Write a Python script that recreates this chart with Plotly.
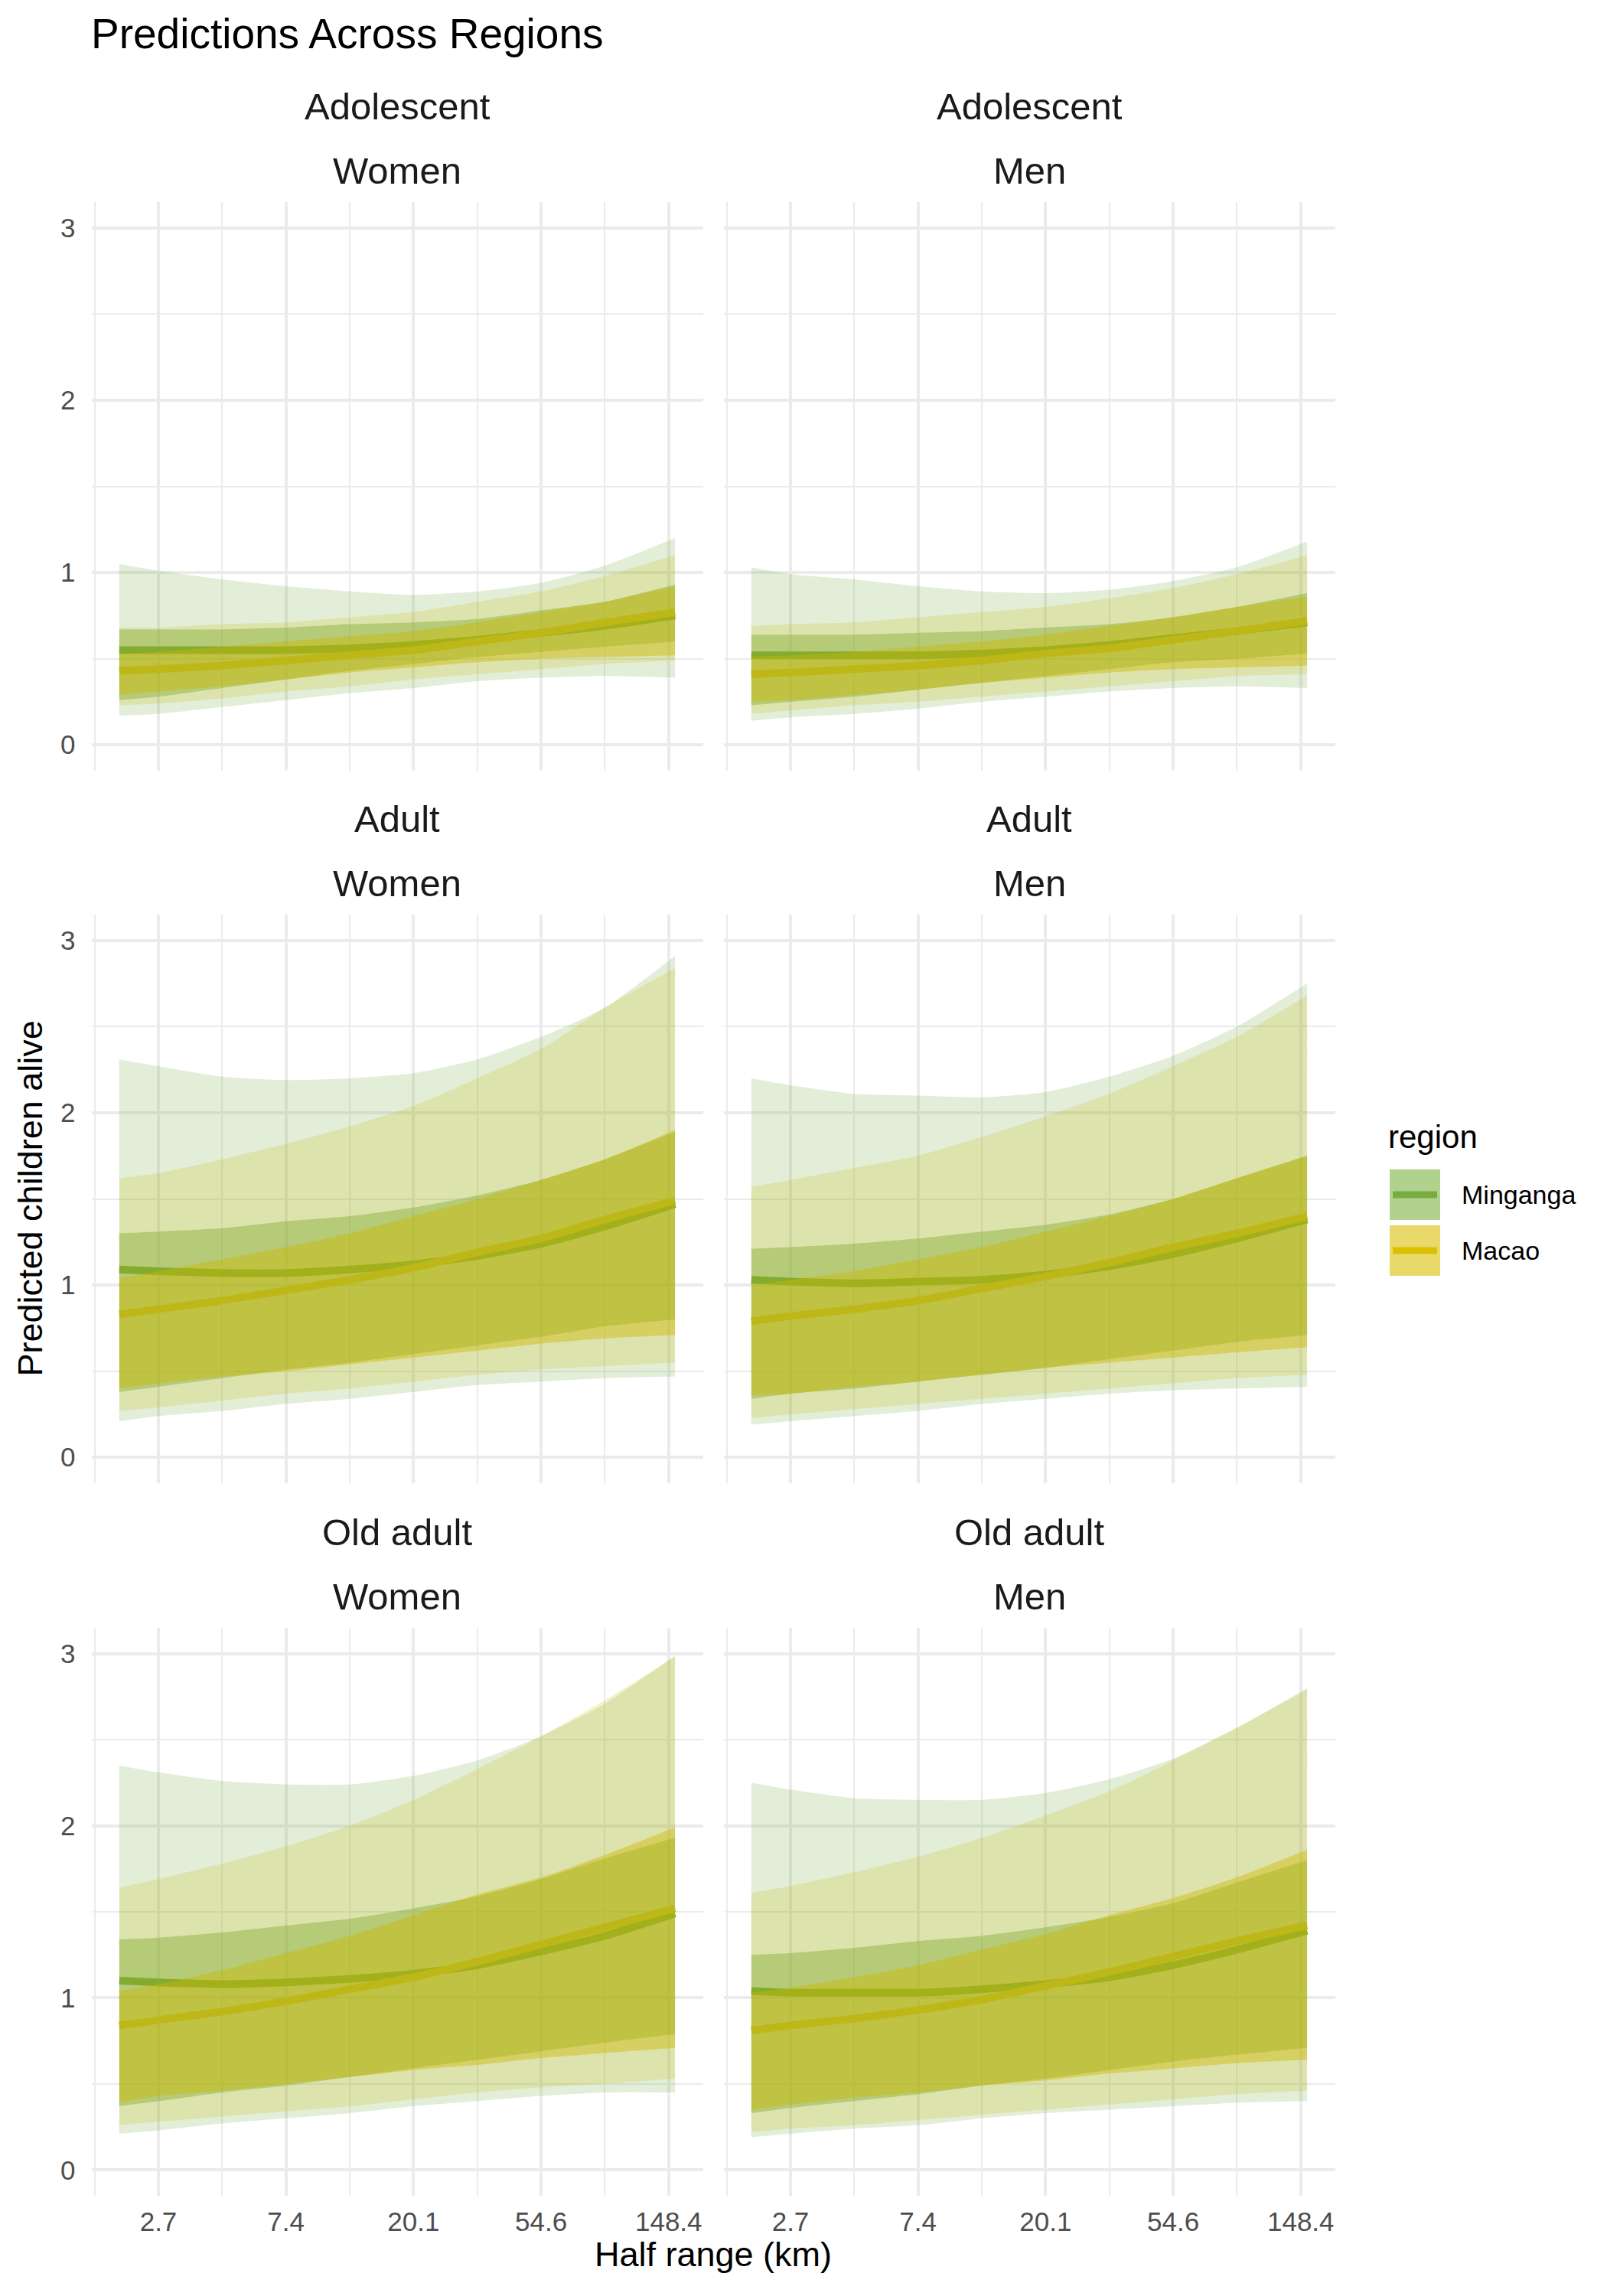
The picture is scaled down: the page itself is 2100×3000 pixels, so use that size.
"""Faceted prediction ribbons (children alive vs half range) with Plotly."""

import plotly.graph_objects as go

# the page body adds an 8 px margin, so the figure is 8 px smaller than the window
PAGE_PAD = 8
FIG_W, FIG_H = 2100 - PAGE_PAD, 3000 - PAGE_PAD

# x values shared by every curve (km, drawn on a log axis)
HALF_RANGE_KM = [2.0, 2.72, 4.48, 7.39, 12.18, 20.09, 33.12, 54.6, 90.02, 156.0]

AGE_GROUPS = ["Adolescent", "Adult", "Old adult"]
SEXES = ["Women", "Men"]
REGIONS = ["Minganga", "Macao"]

X_TICK_VALUES = [2.718, 7.389, 20.09, 54.6, 148.4]
X_TICK_LABELS = ["2.7", "7.4", "20.1", "54.6", "148.4"]
X_MINOR_VALUES = [1.649, 4.482, 12.18, 33.12, 90.02]
Y_TICK_VALUES = [0, 1, 2, 3]
Y_MINOR_VALUES = [0.5, 1.5, 2.5]

# Adolescent / Women
ADOL_W_MIN_MEAN = [0.55, 0.55, 0.55, 0.55, 0.56, 0.58, 0.61, 0.65, 0.69, 0.75]
ADOL_W_MIN_IN_LO = [0.26, 0.28, 0.33, 0.38, 0.43, 0.47, 0.51, 0.54, 0.57, 0.60]
ADOL_W_MIN_IN_HI = [0.67, 0.67, 0.67, 0.68, 0.70, 0.71, 0.73, 0.78, 0.83, 0.93]
ADOL_W_MIN_OUT_LO = [0.17, 0.18, 0.22, 0.26, 0.30, 0.33, 0.37, 0.39, 0.40, 0.39]
ADOL_W_MIN_OUT_HI = [1.05, 1.01, 0.96, 0.92, 0.89, 0.87, 0.89, 0.94, 1.04, 1.20]
ADOL_W_MAC_MEAN = [0.43, 0.44, 0.46, 0.49, 0.52, 0.55, 0.60, 0.65, 0.71, 0.77]
ADOL_W_MAC_IN_LO = [0.29, 0.31, 0.34, 0.38, 0.42, 0.45, 0.48, 0.50, 0.51, 0.52]
ADOL_W_MAC_IN_HI = [0.53, 0.54, 0.57, 0.60, 0.63, 0.66, 0.71, 0.77, 0.83, 0.92]
ADOL_W_MAC_OUT_LO = [0.23, 0.24, 0.27, 0.31, 0.34, 0.38, 0.41, 0.44, 0.47, 0.49]
ADOL_W_MAC_OUT_HI = [0.68, 0.68, 0.70, 0.71, 0.74, 0.77, 0.83, 0.89, 0.98, 1.10]

# Adolescent / Men
ADOL_M_MIN_MEAN = [0.52, 0.52, 0.52, 0.52, 0.53, 0.55, 0.58, 0.62, 0.66, 0.71]
ADOL_M_MIN_IN_LO = [0.23, 0.25, 0.28, 0.32, 0.36, 0.40, 0.44, 0.48, 0.50, 0.53]
ADOL_M_MIN_IN_HI = [0.64, 0.64, 0.64, 0.65, 0.66, 0.68, 0.70, 0.74, 0.80, 0.88]
ADOL_M_MIN_OUT_LO = [0.14, 0.16, 0.18, 0.21, 0.25, 0.28, 0.31, 0.33, 0.34, 0.33]
ADOL_M_MIN_OUT_HI = [1.03, 0.99, 0.96, 0.92, 0.89, 0.88, 0.90, 0.95, 1.03, 1.18]
ADOL_M_MAC_MEAN = [0.41, 0.42, 0.44, 0.46, 0.49, 0.53, 0.56, 0.61, 0.66, 0.72]
ADOL_M_MAC_IN_LO = [0.25, 0.26, 0.29, 0.32, 0.36, 0.39, 0.42, 0.44, 0.45, 0.46]
ADOL_M_MAC_IN_HI = [0.51, 0.52, 0.54, 0.57, 0.60, 0.64, 0.69, 0.74, 0.80, 0.86]
ADOL_M_MAC_OUT_LO = [0.18, 0.20, 0.23, 0.25, 0.28, 0.31, 0.34, 0.37, 0.40, 0.41]
ADOL_M_MAC_OUT_HI = [0.69, 0.70, 0.71, 0.74, 0.77, 0.80, 0.85, 0.91, 0.99, 1.10]

# Adult / Women
ADULT_W_MIN_MEAN = [1.09, 1.08, 1.07, 1.07, 1.09, 1.12, 1.17, 1.24, 1.34, 1.47]
ADULT_W_MIN_IN_LO = [0.38, 0.41, 0.46, 0.51, 0.55, 0.60, 0.65, 0.70, 0.76, 0.80]
ADULT_W_MIN_IN_HI = [1.30, 1.31, 1.33, 1.37, 1.40, 1.45, 1.52, 1.61, 1.73, 1.89]
ADULT_W_MIN_OUT_LO = [0.21, 0.24, 0.27, 0.31, 0.34, 0.38, 0.42, 0.44, 0.46, 0.47]
ADULT_W_MIN_OUT_HI = [2.31, 2.27, 2.21, 2.19, 2.20, 2.23, 2.31, 2.44, 2.61, 2.91]
ADULT_W_MAC_MEAN = [0.83, 0.86, 0.91, 0.97, 1.03, 1.10, 1.19, 1.27, 1.38, 1.49]
ADULT_W_MAC_IN_LO = [0.40, 0.43, 0.47, 0.50, 0.54, 0.58, 0.62, 0.66, 0.69, 0.71]
ADULT_W_MAC_IN_HI = [1.04, 1.08, 1.15, 1.22, 1.30, 1.40, 1.50, 1.61, 1.73, 1.90]
ADULT_W_MAC_OUT_LO = [0.27, 0.29, 0.33, 0.37, 0.40, 0.44, 0.48, 0.51, 0.53, 0.55]
ADULT_W_MAC_OUT_HI = [1.62, 1.65, 1.73, 1.82, 1.92, 2.04, 2.20, 2.37, 2.61, 2.84]

# Adult / Men
ADULT_M_MIN_MEAN = [1.03, 1.02, 1.01, 1.02, 1.03, 1.06, 1.11, 1.18, 1.27, 1.38]
ADULT_M_MIN_IN_LO = [0.34, 0.37, 0.40, 0.44, 0.48, 0.52, 0.57, 0.62, 0.67, 0.71]
ADULT_M_MIN_IN_HI = [1.21, 1.22, 1.24, 1.27, 1.31, 1.35, 1.41, 1.50, 1.62, 1.75]
ADULT_M_MIN_OUT_LO = [0.19, 0.21, 0.24, 0.27, 0.31, 0.34, 0.37, 0.39, 0.40, 0.41]
ADULT_M_MIN_OUT_HI = [2.20, 2.16, 2.11, 2.10, 2.09, 2.12, 2.21, 2.33, 2.50, 2.75]
ADULT_M_MAC_MEAN = [0.79, 0.82, 0.86, 0.91, 0.98, 1.05, 1.13, 1.22, 1.30, 1.40]
ADULT_M_MAC_IN_LO = [0.36, 0.37, 0.41, 0.44, 0.48, 0.52, 0.55, 0.58, 0.61, 0.64]
ADULT_M_MAC_IN_HI = [1.00, 1.03, 1.08, 1.15, 1.22, 1.31, 1.40, 1.50, 1.62, 1.75]
ADULT_M_MAC_OUT_LO = [0.23, 0.25, 0.28, 0.31, 0.34, 0.37, 0.40, 0.43, 0.46, 0.48]
ADULT_M_MAC_OUT_HI = [1.57, 1.61, 1.68, 1.75, 1.86, 1.98, 2.11, 2.27, 2.44, 2.68]

# Old adult / Women
OLD_W_MIN_MEAN = [1.10, 1.09, 1.08, 1.09, 1.11, 1.14, 1.19, 1.27, 1.36, 1.49]
OLD_W_MIN_IN_LO = [0.37, 0.40, 0.45, 0.49, 0.54, 0.59, 0.64, 0.69, 0.74, 0.79]
OLD_W_MIN_IN_HI = [1.34, 1.35, 1.38, 1.42, 1.46, 1.52, 1.59, 1.69, 1.81, 1.93]
OLD_W_MIN_OUT_LO = [0.21, 0.23, 0.27, 0.30, 0.33, 0.37, 0.40, 0.43, 0.45, 0.45]
OLD_W_MIN_OUT_HI = [2.35, 2.31, 2.26, 2.24, 2.24, 2.29, 2.38, 2.52, 2.71, 2.99]
OLD_W_MAC_MEAN = [0.84, 0.87, 0.92, 0.98, 1.05, 1.12, 1.21, 1.31, 1.41, 1.52]
OLD_W_MAC_IN_LO = [0.39, 0.43, 0.46, 0.50, 0.54, 0.58, 0.61, 0.65, 0.68, 0.71]
OLD_W_MAC_IN_HI = [1.04, 1.08, 1.16, 1.26, 1.36, 1.48, 1.60, 1.70, 1.83, 1.99]
OLD_W_MAC_OUT_LO = [0.26, 0.28, 0.31, 0.34, 0.37, 0.41, 0.45, 0.48, 0.50, 0.53]
OLD_W_MAC_OUT_HI = [1.64, 1.69, 1.78, 1.88, 2.00, 2.15, 2.33, 2.52, 2.73, 2.98]

# Old adult / Men
OLD_M_MIN_MEAN = [1.04, 1.03, 1.03, 1.03, 1.05, 1.08, 1.12, 1.19, 1.28, 1.39]
OLD_M_MIN_IN_LO = [0.33, 0.36, 0.40, 0.44, 0.49, 0.53, 0.58, 0.63, 0.67, 0.71]
OLD_M_MIN_IN_HI = [1.25, 1.26, 1.29, 1.33, 1.36, 1.41, 1.47, 1.55, 1.67, 1.80]
OLD_M_MIN_OUT_LO = [0.19, 0.21, 0.24, 0.26, 0.30, 0.33, 0.35, 0.37, 0.39, 0.40]
OLD_M_MIN_OUT_HI = [2.25, 2.21, 2.16, 2.15, 2.15, 2.19, 2.27, 2.39, 2.57, 2.80]
OLD_M_MAC_MEAN = [0.81, 0.84, 0.88, 0.93, 0.99, 1.07, 1.15, 1.24, 1.33, 1.42]
OLD_M_MAC_IN_LO = [0.35, 0.38, 0.42, 0.45, 0.49, 0.52, 0.56, 0.59, 0.62, 0.64]
OLD_M_MAC_IN_HI = [1.03, 1.06, 1.12, 1.19, 1.28, 1.37, 1.48, 1.58, 1.70, 1.86]
OLD_M_MAC_OUT_LO = [0.22, 0.24, 0.26, 0.29, 0.32, 0.35, 0.38, 0.41, 0.44, 0.46]
OLD_M_MAC_OUT_HI = [1.61, 1.65, 1.73, 1.82, 1.93, 2.06, 2.20, 2.38, 2.57, 2.79]

# (mean, inner lo, inner hi, outer lo, outer hi) per facet and region
CURVES = {
    ("Adolescent", "Women", "Minganga"): (ADOL_W_MIN_MEAN, ADOL_W_MIN_IN_LO, ADOL_W_MIN_IN_HI, ADOL_W_MIN_OUT_LO, ADOL_W_MIN_OUT_HI),
    ("Adolescent", "Women", "Macao"): (ADOL_W_MAC_MEAN, ADOL_W_MAC_IN_LO, ADOL_W_MAC_IN_HI, ADOL_W_MAC_OUT_LO, ADOL_W_MAC_OUT_HI),
    ("Adolescent", "Men", "Minganga"): (ADOL_M_MIN_MEAN, ADOL_M_MIN_IN_LO, ADOL_M_MIN_IN_HI, ADOL_M_MIN_OUT_LO, ADOL_M_MIN_OUT_HI),
    ("Adolescent", "Men", "Macao"): (ADOL_M_MAC_MEAN, ADOL_M_MAC_IN_LO, ADOL_M_MAC_IN_HI, ADOL_M_MAC_OUT_LO, ADOL_M_MAC_OUT_HI),
    ("Adult", "Women", "Minganga"): (ADULT_W_MIN_MEAN, ADULT_W_MIN_IN_LO, ADULT_W_MIN_IN_HI, ADULT_W_MIN_OUT_LO, ADULT_W_MIN_OUT_HI),
    ("Adult", "Women", "Macao"): (ADULT_W_MAC_MEAN, ADULT_W_MAC_IN_LO, ADULT_W_MAC_IN_HI, ADULT_W_MAC_OUT_LO, ADULT_W_MAC_OUT_HI),
    ("Adult", "Men", "Minganga"): (ADULT_M_MIN_MEAN, ADULT_M_MIN_IN_LO, ADULT_M_MIN_IN_HI, ADULT_M_MIN_OUT_LO, ADULT_M_MIN_OUT_HI),
    ("Adult", "Men", "Macao"): (ADULT_M_MAC_MEAN, ADULT_M_MAC_IN_LO, ADULT_M_MAC_IN_HI, ADULT_M_MAC_OUT_LO, ADULT_M_MAC_OUT_HI),
    ("Old adult", "Women", "Minganga"): (OLD_W_MIN_MEAN, OLD_W_MIN_IN_LO, OLD_W_MIN_IN_HI, OLD_W_MIN_OUT_LO, OLD_W_MIN_OUT_HI),
    ("Old adult", "Women", "Macao"): (OLD_W_MAC_MEAN, OLD_W_MAC_IN_LO, OLD_W_MAC_IN_HI, OLD_W_MAC_OUT_LO, OLD_W_MAC_OUT_HI),
    ("Old adult", "Men", "Minganga"): (OLD_M_MIN_MEAN, OLD_M_MIN_IN_LO, OLD_M_MIN_IN_HI, OLD_M_MIN_OUT_LO, OLD_M_MIN_OUT_HI),
    ("Old adult", "Men", "Macao"): (OLD_M_MAC_MEAN, OLD_M_MAC_IN_LO, OLD_M_MAC_IN_HI, OLD_M_MAC_OUT_LO, OLD_M_MAC_OUT_HI),
}

FONT = "Liberation Sans, Arial, Helvetica, sans-serif"
GRID = "#EBEBEB"

REGION_RGB = {"Minganga": "110,170,60", "Macao": "204,183,0"}
LINE_COLOR = {"Minganga": "rgb(112,168,60)", "Macao": "#BDB817"}
LEGEND_FILL = {"Minganga": "#B1D18F", "Macao": "#E9D96A"}
LEGEND_LINE = {"Minganga": "#78AC3E", "Macao": "#DCC000"}

# panel boxes in window pixels (left, right) and (top, bottom)
COL_PX = [(119.5, 918.5), (945.5, 1744.5)]
ROW_PX = [(264, 1007), (1195, 1938), (2127, 2869)]


def px_x(x):
    return (x - PAGE_PAD) / FIG_W


def px_y(y):
    return 1 - (y - PAGE_PAD) / FIG_H


def ribbon(x, lo, hi, rgb, alpha, xa, ya):
    """Lower edge then upper edge filled down to it."""
    edge = {"width": 0, "shape": "spline", "smoothing": 0.6}
    lower = go.Scatter(
        x=x, y=lo, mode="lines", line=edge, hoverinfo="skip", showlegend=False, xaxis=xa, yaxis=ya
    )
    upper = go.Scatter(
        x=x,
        y=hi,
        mode="lines",
        line=edge,
        fill="tonexty",
        fillcolor=f"rgba({rgb},{alpha})",
        hoverinfo="skip",
        showlegend=False,
        xaxis=xa,
        yaxis=ya,
    )
    return [lower, upper]


def text_note(text, x, y, size, color="#000000", xanchor="center", angle=0):
    return {
        "text": text,
        "x": px_x(x),
        "y": px_y(y),
        "xref": "paper",
        "yref": "paper",
        "xanchor": xanchor,
        "yanchor": "middle",
        "textangle": angle,
        "showarrow": False,
        "font": {"family": FONT, "size": size, "color": color},
    }


fig = go.Figure()
annotations = []

for r, age in enumerate(AGE_GROUPS):
    for c, sex in enumerate(SEXES):
        idx = r * 2 + c + 1
        xa = "x" if idx == 1 else f"x{idx}"
        ya = "y" if idx == 1 else f"y{idx}"

        for region in REGIONS:
            mean, in_lo, in_hi, out_lo, out_hi = CURVES[(age, sex, region)]
            rgb = REGION_RGB[region]
            fig.add_traces(ribbon(HALF_RANGE_KM, out_lo, out_hi, rgb, 0.2, xa, ya))
            fig.add_traces(ribbon(HALF_RANGE_KM, in_lo, in_hi, rgb, 0.43, xa, ya))
            fig.add_trace(
                go.Scatter(
                    x=HALF_RANGE_KM,
                    y=mean,
                    mode="lines",
                    name=region,
                    line={"color": LINE_COLOR[region], "width": 10, "shape": "spline", "smoothing": 0.6},
                    showlegend=False,
                    hovertemplate=region + ": %{y:.2f}<extra></extra>",
                    xaxis=xa,
                    yaxis=ya,
                )
            )

        left, right = COL_PX[c]
        top, bottom = ROW_PX[r]
        bottom_row = r == len(AGE_GROUPS) - 1
        left_col = c == 0

        fig.update_layout(
            {
                ("xaxis" if idx == 1 else f"xaxis{idx}"): {
                    "domain": [px_x(left), px_x(right)],
                    "anchor": ya,
                    "type": "log",
                    "range": [0.2063, 2.2880],
                    "tickvals": X_TICK_VALUES,
                    "ticktext": X_TICK_LABELS,
                    "showticklabels": bottom_row,
                    "ticks": "",
                    "ticklabelstandoff": 10,
                    "tickfont": {"family": FONT, "size": 35, "color": "#4D4D4D"},
                    "showgrid": True,
                    "gridcolor": GRID,
                    "gridwidth": 3.5,
                    "minor": {"tickvals": X_MINOR_VALUES, "showgrid": True, "gridcolor": GRID, "gridwidth": 1.8},
                    "showline": False,
                    "zeroline": False,
                    "fixedrange": True,
                },
                ("yaxis" if idx == 1 else f"yaxis{idx}"): {
                    "domain": [px_y(bottom), px_y(top)],
                    "anchor": xa,
                    "range": [-0.15, 3.15],
                    "tickvals": Y_TICK_VALUES,
                    "showticklabels": left_col,
                    "ticks": "",
                    "ticklabelstandoff": 20,
                    "tickfont": {"family": FONT, "size": 35, "color": "#4D4D4D"},
                    "showgrid": True,
                    "gridcolor": GRID,
                    "gridwidth": 3.5,
                    "minor": {"tickvals": Y_MINOR_VALUES, "showgrid": True, "gridcolor": GRID, "gridwidth": 1.8},
                    "showline": False,
                    "zeroline": False,
                    "fixedrange": True,
                },
            }
        )

        # facet strip: two lines of labels above each panel
        centre = (left + right) / 2
        annotations.append(text_note(age, centre, top - 125, 49, "#1A1A1A"))
        annotations.append(text_note(sex, centre, top - 41, 49, "#1A1A1A"))

# axis titles
annotations.append(text_note("Half range (km)", (COL_PX[0][0] + COL_PX[1][1]) / 2, 2945, 45))
annotations.append(
    text_note("Predicted children alive", 39, (ROW_PX[0][0] + ROW_PX[2][1]) / 2, 45, angle=-90)
)

# legend drawn by hand so the keys keep the reference size
shapes = []
annotations.append(text_note("region", 1812, 1486, 42, xanchor="left"))
for i, region in enumerate(REGIONS):
    k_top = 1528 + i * 73
    k_bot = k_top + 66
    k_mid = (k_top + k_bot) / 2
    shapes.append(
        {
            "type": "rect",
            "xref": "paper",
            "yref": "paper",
            "x0": px_x(1816),
            "x1": px_x(1882),
            "y0": px_y(k_bot),
            "y1": px_y(k_top),
            "fillcolor": LEGEND_FILL[region],
            "line": {"width": 0},
        }
    )
    shapes.append(
        {
            "type": "line",
            "xref": "paper",
            "yref": "paper",
            "x0": px_x(1820),
            "x1": px_x(1878),
            "y0": px_y(k_mid),
            "y1": px_y(k_mid),
            "line": {"color": LEGEND_LINE[region], "width": 9},
        }
    )
    annotations.append(text_note(region, 1908, k_mid, 34, xanchor="left"))

fig.update_layout(
    width=FIG_W,
    height=FIG_H,
    margin={"l": 0, "r": 0, "t": 0, "b": 0},
    paper_bgcolor="white",
    plot_bgcolor="white",
    showlegend=False,
    title={
        "text": "Predictions Across Regions",
        "x": px_x(119),
        "y": px_y(44),
        "xref": "paper",
        "yref": "container",
        "xanchor": "left",
        "yanchor": "middle",
        "font": {"family": FONT, "size": 55, "color": "#000000"},
    },
    annotations=annotations,
    shapes=shapes,
    hovermode="closest",
)

fig.write_html("out.html")
